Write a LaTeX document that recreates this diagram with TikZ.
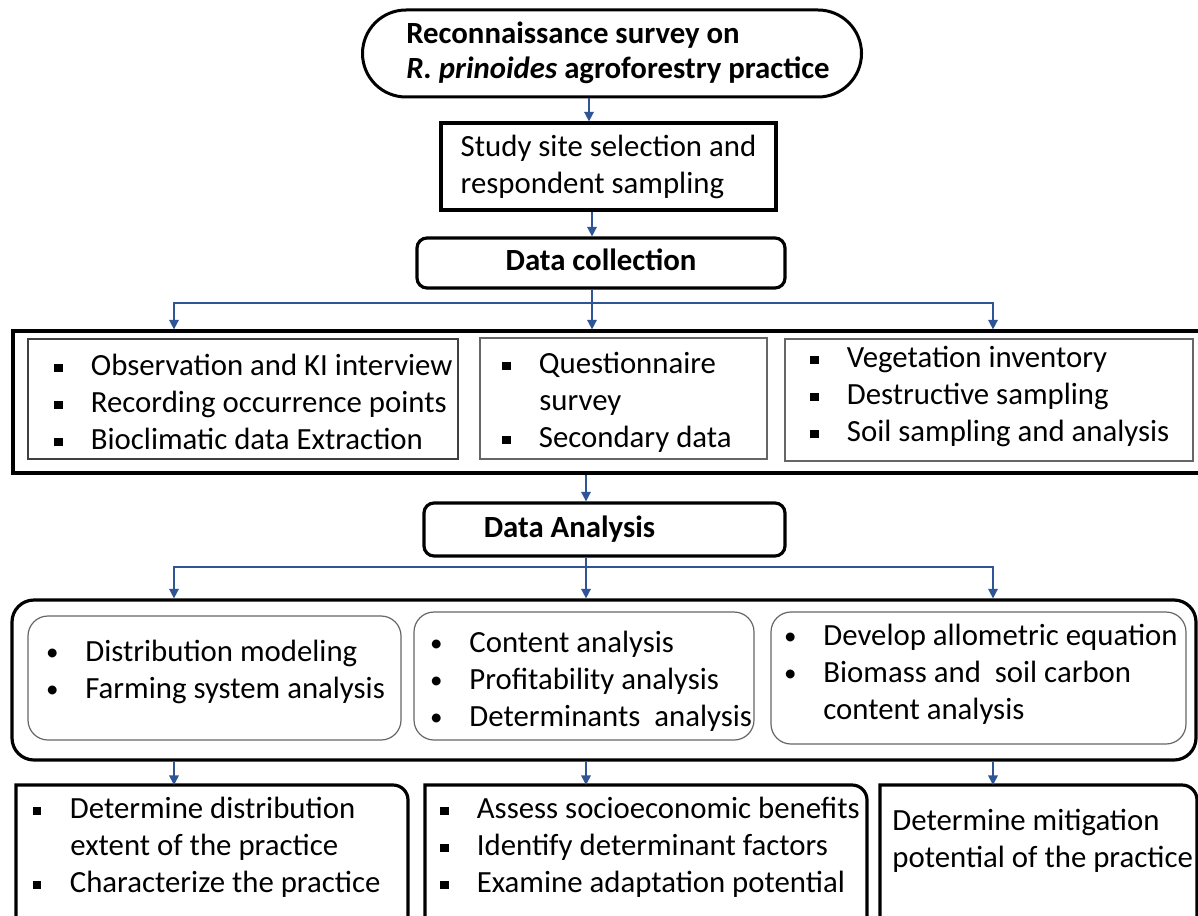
\documentclass[tikz,border=0pt]{standalone}
\usepackage{fontspec}
\setmainfont{Carlito}
\usetikzlibrary{shapes.misc,fit,arrows.meta}
\definecolor{flowblue}{RGB}{47,85,151}
\newcommand{\sqb}{\strut\makebox[0pt]{\rule[1.6pt]{4.1pt}{4.1pt}}\hspace*{16.25pt}}
\newcommand{\rdb}{\strut\makebox[0pt]{\raisebox{0.6pt}{\fontsize{12.5}{12.5}\selectfont\textbullet}}\hspace*{16.5pt}}
\newcommand{\nob}{\strut\hspace*{16.5pt}}

\begin{document}
\begin{tikzpicture}[x=0.5pt, y=-0.5pt,
    >={Triangle[length=4.8pt,width=4.8pt]},
    every node/.style={font=\fontsize{15.4}{18.5}\selectfont},
    heavy/.style={draw, line width=1.6pt, inner sep=0pt},
    thin/.style={draw=black!60, line width=0.6pt, inner sep=0pt},
    head/.style={heavy, rounded corners=5pt, font=\fontsize{15.4}{18.5}\selectfont\bfseries},
    items/.style={anchor=north west, inner sep=0pt, align=left},
    flow/.style={->, draw=flowblue, line width=0.75pt}]

    \useasboundingbox (0,0) rectangle (1198,915);

    % columns of the arrows
    \coordinate (c1) at (589,0);
    \coordinate (c2) at (592,0);
    \coordinate (colL) at (174,0);
    \coordinate (colR) at (993,0);
    \coordinate (j1) at (592,303);
    \coordinate (j2) at (586,567);

    % survey and site selection
    \node[rounded rectangle, draw, line width=1.5pt, minimum width=249.5pt, minimum height=43.5pt, inner sep=0pt] (survey) at (612,53.5) {};
    \node[align=left, font=\fontsize{15.4}{17.5}\selectfont\bfseries] (surveytxt) at (618,52.5) {Reconnaissance survey on\\\textit{R. prinoides} agroforestry practice};
    \node[heavy, minimum width=167.5pt, minimum height=43.5pt, align=left] (site) at (608.5,166.5) {Study site selection and\\respondent sampling};
    \node[head, minimum width=184pt, minimum height=25pt] (collect) at (601,263) {\raisebox{3pt}{Data collection}};

    \draw[flow] (survey.south -| c1) -- (site.north -| c1);
    \draw[flow] (site.south -| c2) -- (collect.north -| c2);

    % data collection
    \node[heavy, fit={(13,331) (1210,473)}] (cbox) {};
    \node[thin, draw=black!75, fit={(28,339) (458,459)}] (obs) {};
    \node[thin, fit={(480,338) (767,459)}] (quest) {};
    \node[thin, fit={(785,339) (1193,461)}] (veg) {};

    \node[items] (obstxt) at (58,349) {\sqb Observation and KI interview\\\sqb Recording occurrence points\\\sqb Bioclimatic data Extraction};
    \node[items] (questtxt) at (506,347) {\sqb Questionnaire\\\nob survey\\\sqb Secondary data};
    \node[items] (vegtxt) at (814,341) {\sqb Vegetation inventory\\\sqb Destructive sampling\\\sqb Soil sampling and analysis};

    \draw[flow] (collect.south -| j1) -- (cbox.north -| j1);
    \draw[flow] (j1) -| (cbox.north -| colL);
    \draw[flow] (j1) -| (cbox.north -| colR);

    % data analysis
    \node[head, minimum width=180.5pt, minimum height=26.5pt] (analysis) at (604.5,529.5) {Data Analysis\hspace*{35pt}};
    \draw[flow] (cbox.south -| j2) -- (analysis.north -| j2);

    \node[heavy, rounded corners=11pt, fit={(12,600) (1196,760)}] (abox) {};
    \node[thin, rounded corners=10pt, fit={(28,616) (401,740)}] (model) {};
    \node[thin, rounded corners=10pt, fit={(414,612) (754,740)}] (econ) {};
    \node[thin, rounded corners=10pt, fit={(771,612) (1186,744)}] (carb) {};

    \node[items] (modeltxt) at (52,635) {\rdb Distribution modeling\\\rdb Farming system analysis};
    \node[items] (econtxt) at (436,626) {\rdb Content analysis\\\rdb Profitability analysis\\\rdb Determinants\ \ analysis};
    \node[items] (carbtxt) at (790,619) {\rdb Develop allometric equation\\\rdb Biomass and\ \ soil carbon\\\nob content analysis};

    \draw[flow] (analysis.south -| j2) -- (abox.north -| j2);
    \draw[flow] (j2) -| (abox.north -| colL);
    \draw[flow] (j2) -| (abox.north -| colR);

    % results
    \coordinate (res1) at (174,785);
    \coordinate (res2) at (586,785);
    \coordinate (res3) at (993,785);
    \draw[heavy] (16,930) -- (16,785) -- (393,785) arc[start angle=90, end angle=0, radius=7.5pt] -- (408,930);
    \draw[heavy] (425,930) -- (425,785) -- (852,785) arc[start angle=90, end angle=0, radius=7.5pt] -- (867,930);
    \draw[heavy] (880,930) -- (880,785) -- (1182,785) arc[start angle=90, end angle=0, radius=7.5pt] -- (1197,930);

    \node[items] (distrtxt) at (37,792) {\sqb Determine distribution\\\nob extent of the practice\\\sqb Characterize the practice};
    \node[items] (benefittxt) at (444,792) {\sqb Assess socioeconomic benefits\\\sqb Identify determinant factors\\\sqb Examine adaptation potential};
    \node[items] (mitigtxt) at (892,804) {\strut Determine mitigation\\\strut potential of the practice};

    \draw[flow] (abox.south -| res1) -- (res1);
    \draw[flow] (abox.south -| res2) -- (res2);
    \draw[flow] (abox.south -| res3) -- (res3);

\end{tikzpicture}
\end{document}
